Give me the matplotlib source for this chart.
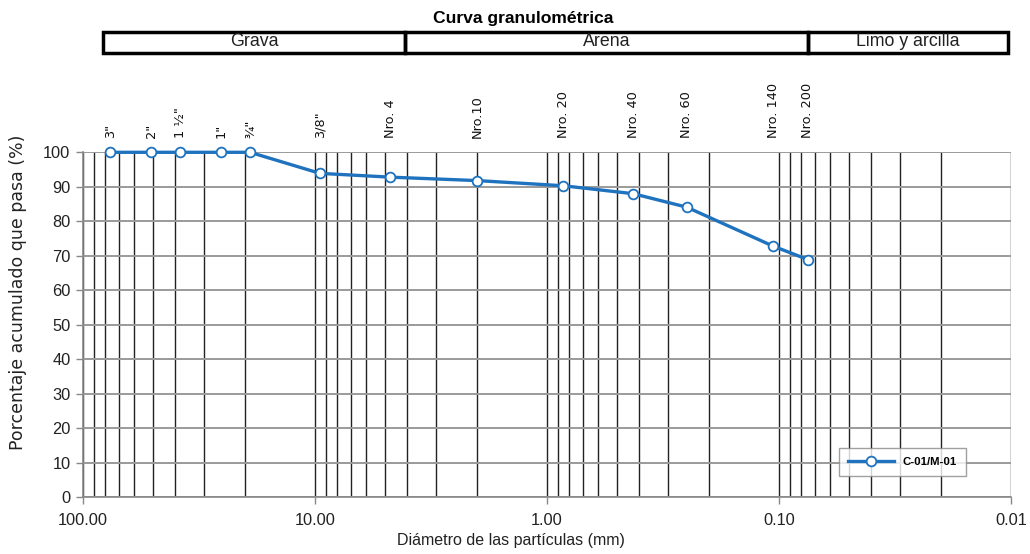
import numpy as np
import matplotlib
matplotlib.use("Agg")
import matplotlib.pyplot as plt
from matplotlib.patches import Rectangle
from matplotlib.ticker import LogLocator, FixedLocator, FixedFormatter, NullFormatter
import matplotlib.transforms as mtransforms

plt.rcParams['font.family'] = ['Liberation Sans', 'DejaVu Sans']

# ---- datos del ensayo ----
tamices = ['3"', '2"', '1 ½"', '1"', '¾"', '3/8"', 'Nro. 4', 'Nro.10',
           'Nro. 20', 'Nro. 40', 'Nro. 60', 'Nro. 140', 'Nro. 200']
abertura_mm = [76.2, 50.8, 38.1, 25.4, 19.05, 9.525, 4.75, 2.0,
               0.85, 0.425, 0.25, 0.106, 0.075]
pasa_pct = [100, 100, 100, 100, 100, 93.9, 92.8, 91.8,
            90.3, 88.0, 84.1, 72.8, 68.9]
serie = "C-01/M-01"

xticks = [100, 10, 1, 0.1, 0.01]
xticklabels = ["100.00", "10.00", "1.00", "0.10", "0.01"]
yticks = list(range(0, 101, 10))

W, H = 1030, 554
fig = plt.figure(figsize=(W / 100, H / 100), dpi=100)
ax = fig.add_axes([83 / W, 1 - 497.3 / H, (1011 - 83) / W, (497.3 - 152.3) / H])

ax.set_xscale('log')
ax.set_xlim(100, 0.01)
ax.set_ylim(0, 100)

ax.xaxis.set_major_locator(FixedLocator(xticks))
ax.xaxis.set_major_formatter(FixedFormatter(xticklabels))
ax.xaxis.set_minor_locator(LogLocator(base=10, subs=np.arange(2, 10)))
ax.xaxis.set_minor_formatter(NullFormatter())
ax.set_yticks(yticks)

ax.grid(True, which='both', axis='x', color='#222222', linewidth=1.0)
ax.grid(True, which='major', axis='y', color='#9a9a9a', linewidth=1.4)
ax.set_axisbelow(True)

for s in ['top', 'right']:
    ax.spines[s].set_visible(False)
for s in ['left', 'bottom']:
    ax.spines[s].set_color('#888888')
    ax.spines[s].set_linewidth(1.2)

ax.tick_params(axis='both', which='major', labelsize=11.8, colors='#888888',
               labelcolor='#222222', length=5, width=1.0)
ax.tick_params(axis='x', which='major', pad=6)
ax.tick_params(axis='y', which='major', pad=4)
ax.tick_params(axis='x', which='minor', length=0)

ax.plot(abertura_mm, pasa_pct, color='#1F73BE', linewidth=2.4, marker='o',
        markersize=7, markerfacecolor='white', markeredgecolor='#1F73BE',
        markeredgewidth=1.3, label=serie, zorder=5, clip_on=False)

# nombres de tamices sobre el grafico
trans = mtransforms.blended_transform_factory(ax.transData, ax.transAxes)
for x, nombre in zip(abertura_mm, tamices):
    ax.text(x, 1.04, nombre, transform=trans, rotation=90, ha='center',
            va='bottom', fontsize=9.3, color='#111111', family=['DejaVu Sans'])

leg = ax.legend(loc='lower right', bbox_to_anchor=((966 - 83) / 928, (497.3 - 476) / 345),
                frameon=True, fancybox=False, edgecolor='#888888',
                prop={'weight': 'bold', 'size': 8.2}, handlelength=4.0,
                borderpad=0.8, borderaxespad=0)
leg.get_frame().set_linewidth(1.0)

# titulo y franja de clasificacion
fig.text(523 / W, 1 - 18 / H, "Curva granulométrica", ha='center', va='center',
         fontsize=12.6, fontweight='bold')
y0, y1 = 1 - 53 / H, 1 - 32 / H
cortes = [103, 405, 808, 1008]
clases = ["Grava", "Arena", "Limo y arcilla"]
for a, b, txt in zip(cortes[:-1], cortes[1:], clases):
    fig.patches.append(Rectangle((a / W, y0), (b - a) / W, y1 - y0,
                                 transform=fig.transFigure, fill=False,
                                 edgecolor='black', linewidth=2.5))
    fig.text((a + b) / 2 / W, 1 - 41 / H, txt, ha='center', va='center',
             fontsize=12.8, color='#222222')

fig.text(18 / W, 1 - 292 / H, "Porcentaje acumulado que pasa (%)", rotation=90,
         ha='center', va='center', fontsize=12.5, color='#222222',
         family=['DejaVu Sans'])
fig.text(511 / W, 1 - 541 / H, "Diámetro de las partículas (mm)", ha='center',
         va='center', fontsize=11.5, color='#222222')

fig.savefig("out.png", dpi=100)
